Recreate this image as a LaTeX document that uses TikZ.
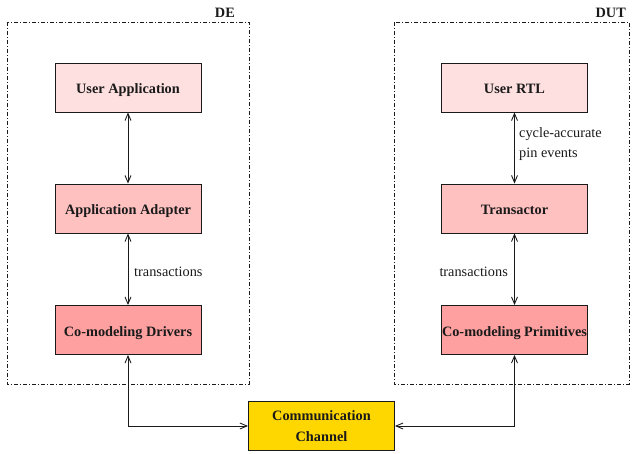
\documentclass[tikz,border=0pt]{standalone}
\usepackage{fontspec}
\setmainfont{Liberation Serif}
\usetikzlibrary{arrows.meta}
\definecolor{pinkA}{HTML}{FFE0E0}
\definecolor{pinkB}{HTML}{FFC0C0}
\definecolor{pinkC}{HTML}{FFA0A0}
\definecolor{chan}{HTML}{FFD700}
\definecolor{ink}{HTML}{1A1A1A}
\tikzset{
  blk/.style={draw=ink, line width=0.9pt, minimum width=146pt, minimum height=49pt,
    inner sep=0pt, align=center, font=\fontsize{14.3}{21}\selectfont\bfseries, text=ink},
  oneline/.style={blk, text height=13pt, text depth=0pt},
  sideframe/.style={draw=ink, line width=0.8pt, dash pattern=on 4pt off 2pt on 1pt off 2pt},
  lbl/.style={font=\fontsize{14.3}{20}\selectfont, text=ink, inner sep=0pt},
  ttl/.style={font=\fontsize{14.3}{17}\selectfont\bfseries, text=ink, inner sep=0pt},
  link/.style={draw=ink, line width=0.9pt, {Straight Barb[length=7pt,width=6pt]}-{Straight Barb[length=7pt,width=6pt]}}
}
\begin{document}
\begin{tikzpicture}[x=1pt, y=-1pt]
\useasboundingbox (0,0) rectangle (632,454);

% side frames
\draw[sideframe] (7,22) rectangle (249,384);
\draw[sideframe] (394,22) rectangle (629,384);
\node[ttl, anchor=east] (de) at (235,13) {DE};
\node[ttl, anchor=east] (dut) at (626,13) {DUT};

% DE side
\node[oneline, fill=pinkA] (ua) at (128,87.5) {User Application};
\node[oneline, fill=pinkB] (aa) at (128,208.5) {Application Adapter};
\node[oneline, fill=pinkC] (cd) at (128,330) {Co-modeling Drivers};

% DUT side
\node[oneline, fill=pinkA] (rtl) at (514.5,87.5) {User RTL};
\node[oneline, fill=pinkB] (tr) at (514.5,208.5) {Transactor};
\node[oneline, fill=pinkC] (cp) at (514.5,330) {Co-modeling Primitives};

% channel
\node[blk, fill=chan] (ch) at (321.5,426) {Communication\\Channel};

% connectors
\draw[link] (ua) -- (aa);
\draw[link] (aa) -- (cd);
\draw[link] (rtl) -- (tr);
\draw[link] (tr) -- (cp);
\draw[link] (cd.south) |- (ch.west);
\draw[link] (cp.south) |- (ch.east);

% labels
\node[lbl, anchor=west] (t1) at (134,272) {transactions};
\node[lbl, anchor=east] (t2) at (508,272) {transactions};
\node[lbl, anchor=west, align=left] (cyc) at (519,144) {cycle-accurate\\pin events};
\end{tikzpicture}
\end{document}
